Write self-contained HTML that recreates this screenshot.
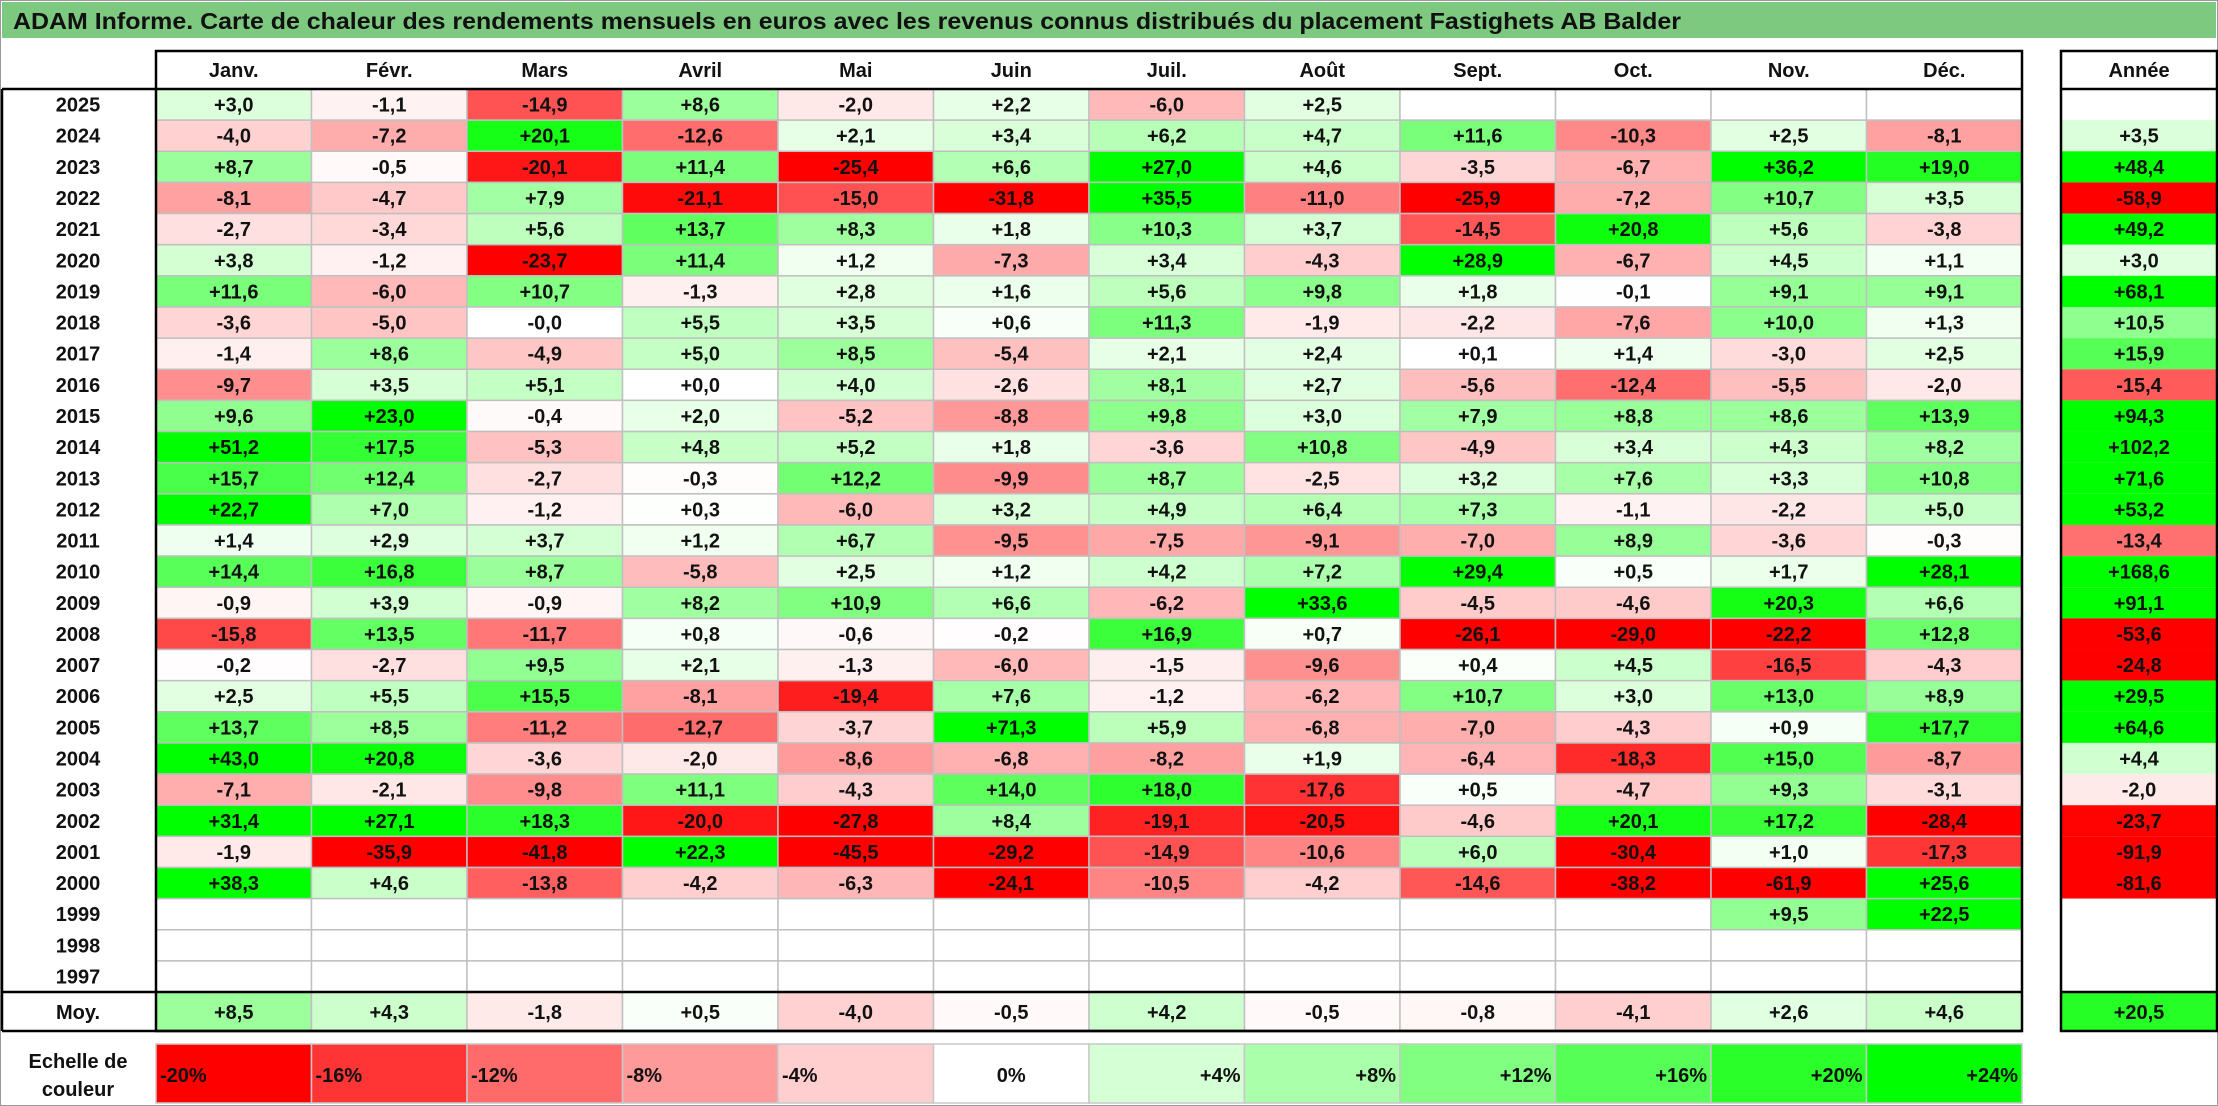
<!DOCTYPE html>
<html><head><meta charset="utf-8"><style>
html,body{margin:0;padding:0;background:#fff;}
svg{display:block;font-family:"Liberation Sans",Arial,sans-serif;font-weight:bold;}
</style></head><body>
<svg id="chart" width="2218" height="1106" viewBox="0 0 2218 1106" xmlns="http://www.w3.org/2000/svg">
<rect x="0" y="0" width="2218" height="1106" fill="#fff" stroke="#999" stroke-width="2"/>
<rect x="2" y="2" width="2214" height="36" fill="#7dc97f"/>
<text x="13" y="29" font-size="23" textLength="1668" lengthAdjust="spacingAndGlyphs" fill="#111">ADAM Informe. Carte de chaleur des rendements mensuels en euros avec les revenus connus distribués du placement Fastighets AB Balder</text>
<g id="cells"></g>
<g id="lines"></g>
</svg>
<script>
const months = ["Janv.","Févr.","Mars","Avril","Mai","Juin","Juil.","Août","Sept.","Oct.","Nov.","Déc."];
const years = [2025,2024,2023,2022,2021,2020,2019,2018,2017,2016,2015,2014,2013,2012,2011,2010,2009,2008,2007,2006,2005,2004,2003,2002,2001,2000,1999,1998,1997];
const N = null;
const monthly = [
[3.0,-1.1,-14.9,8.6,-2.0,2.2,-6.0,2.5,N,N,N,N],
[-4.0,-7.2,20.1,-12.6,2.1,3.4,6.2,4.7,11.6,-10.3,2.5,-8.1],
[8.7,-0.5,-20.1,11.4,-25.4,6.6,27.0,4.6,-3.5,-6.7,36.2,19.0],
[-8.1,-4.7,7.9,-21.1,-15.0,-31.8,35.5,-11.0,-25.9,-7.2,10.7,3.5],
[-2.7,-3.4,5.6,13.7,8.3,1.8,10.3,3.7,-14.5,20.8,5.6,-3.8],
[3.8,-1.2,-23.7,11.4,1.2,-7.3,3.4,-4.3,28.9,-6.7,4.5,1.1],
[11.6,-6.0,10.7,-1.3,2.8,1.6,5.6,9.8,1.8,-0.1,9.1,9.1],
[-3.6,-5.0,-0.0,5.5,3.5,0.6,11.3,-1.9,-2.2,-7.6,10.0,1.3],
[-1.4,8.6,-4.9,5.0,8.5,-5.4,2.1,2.4,0.1,1.4,-3.0,2.5],
[-9.7,3.5,5.1,0.0,4.0,-2.6,8.1,2.7,-5.6,-12.4,-5.5,-2.0],
[9.6,23.0,-0.4,2.0,-5.2,-8.8,9.8,3.0,7.9,8.8,8.6,13.9],
[51.2,17.5,-5.3,4.8,5.2,1.8,-3.6,10.8,-4.9,3.4,4.3,8.2],
[15.7,12.4,-2.7,-0.3,12.2,-9.9,8.7,-2.5,3.2,7.6,3.3,10.8],
[22.7,7.0,-1.2,0.3,-6.0,3.2,4.9,6.4,7.3,-1.1,-2.2,5.0],
[1.4,2.9,3.7,1.2,6.7,-9.5,-7.5,-9.1,-7.0,8.9,-3.6,-0.3],
[14.4,16.8,8.7,-5.8,2.5,1.2,4.2,7.2,29.4,0.5,1.7,28.1],
[-0.9,3.9,-0.9,8.2,10.9,6.6,-6.2,33.6,-4.5,-4.6,20.3,6.6],
[-15.8,13.5,-11.7,0.8,-0.6,-0.2,16.9,0.7,-26.1,-29.0,-22.2,12.8],
[-0.2,-2.7,9.5,2.1,-1.3,-6.0,-1.5,-9.6,0.4,4.5,-16.5,-4.3],
[2.5,5.5,15.5,-8.1,-19.4,7.6,-1.2,-6.2,10.7,3.0,13.0,8.9],
[13.7,8.5,-11.2,-12.7,-3.7,71.3,5.9,-6.8,-7.0,-4.3,0.9,17.7],
[43.0,20.8,-3.6,-2.0,-8.6,-6.8,-8.2,1.9,-6.4,-18.3,15.0,-8.7],
[-7.1,-2.1,-9.8,11.1,-4.3,14.0,18.0,-17.6,0.5,-4.7,9.3,-3.1],
[31.4,27.1,18.3,-20.0,-27.8,8.4,-19.1,-20.5,-4.6,20.1,17.2,-28.4],
[-1.9,-35.9,-41.8,22.3,-45.5,-29.2,-14.9,-10.6,6.0,-30.4,1.0,-17.3],
[38.3,4.6,-13.8,-4.2,-6.3,-24.1,-10.5,-4.2,-14.6,-38.2,-61.9,25.6],
[N,N,N,N,N,N,N,N,N,N,9.5,22.5],
[N,N,N,N,N,N,N,N,N,N,N,N],
[N,N,N,N,N,N,N,N,N,N,N,N]
];
const annual = [N,3.5,48.4,-58.9,49.2,3.0,68.1,10.5,15.9,-15.4,94.3,102.2,71.6,53.2,-13.4,168.6,91.1,-53.6,-24.8,29.5,64.6,4.4,-2.0,-23.7,-91.9,-81.6,N,N,N];
const averages = [8.5,4.3,-1.8,0.5,-4.0,-0.5,4.2,-0.5,-0.8,-4.1,2.6,4.6];
const averageYear = 20.5;
const scaleLabels = ["-20%","-16%","-12%","-8%","-4%","0%","+4%","+8%","+12%","+16%","+20%","+24%"];
const scaleValues = [-24,-19,-14,-9.5,-4.5,0,4,8,12,16,20,24];

const NS="http://www.w3.org/2000/svg";
const cells=document.getElementById('cells'), lines=document.getElementById('lines');
const X0=156, CW=155.5, AX=2061, AW=156, HY=51, RY=89, RH=31.14;
const colX=i=>X0+i*CW;
const rowY=r=>RY+r*RH;
function mk(tag,attrs,parent){const e=document.createElementNS(NS,tag);for(const k in attrs)e.setAttribute(k,attrs[k]);parent.appendChild(e);return e;}
function color(v,s){if(v===null)return '#fff';let t=Math.min(1,Math.abs(v)/s);const c=Math.round(255*(1-t));return v>=0?`rgb(${c},255,${c})`:`rgb(255,${c},${c})`;}
function fmt(v){const neg=v<0||Object.is(v,-0);return (neg?'-':'+')+Math.abs(v).toFixed(1).replace('.',',');}
function txt(x,y,s,parent,anchor){const t=mk('text',{x:x,y:y,'font-size':20,'text-anchor':anchor||'middle',fill:'#111'},parent);t.textContent=s;return t;}

// header
months.forEach((m,i)=>{
  const t=txt(colX(i)+CW/2,HY+26,m,cells);
  
  
});
const ah=txt(AX+AW/2,HY+26,'Année',cells);



// rows
years.forEach((y,r)=>{
  const yl=txt(78,rowY(r)+RH/2+7,String(y),cells);
  
  
  monthly[r].forEach((v,i)=>{
    const rc=mk('rect',{x:colX(i),y:rowY(r),width:CW,height:RH,fill:color(v,22),stroke:'#c0c0c0','stroke-width':1.5},cells);
    
    
    if(v!==null){const t=txt(colX(i)+CW/2,rowY(r)+RH/2+7,fmt(v),cells);
      
      }
  });
  const a=annual[r];
  const ar=mk('rect',{x:AX,y:rowY(r),width:AW,height:RH,fill:color(a,24)},cells);
  
  
  if(a!==null){const t=txt(AX+AW/2,rowY(r)+RH/2+7,fmt(a),cells);
    
    }
});
// average row
const MY=992, MH=39;
const ml=txt(78,MY+27,'Moy.',cells);


averages.forEach((v,i)=>{
  const rc=mk('rect',{x:colX(i),y:MY,width:CW,height:MH,fill:color(v,22),stroke:'#c0c0c0','stroke-width':1.5},cells);
  
  
  const t=txt(colX(i)+CW/2,MY+27,fmt(v),cells);
  
  
});
const avr=mk('rect',{x:AX,y:MY,width:AW,height:MH,fill:color(averageYear,24)},cells);


const avt=txt(AX+AW/2,MY+27,fmt(averageYear),cells);



// legend
const LY=1044, LH=59;
const l1=txt(78,LY+24,'Echelle de',cells);


const l2=txt(78,LY+52,'couleur',cells);


scaleLabels.forEach((s,i)=>{
  const v=scaleValues[i];
  const rc=mk('rect',{x:colX(i),y:LY,width:CW,height:LH,fill:color(v,24),stroke:'#c8c8c8','stroke-width':1.5},cells);
  
  
  let x,anc;
  if(v<0){x=colX(i)+4;anc='start';}else if(v>0){x=colX(i)+CW-4;anc='end';}else{x=colX(i)+CW/2;anc='middle';}
  const t=txt(x,LY+38,s,cells,anc);
  
  
});

// black frame lines
const blk={stroke:'#000','stroke-width':2.5,fill:'none'};
function line(x1,y1,x2,y2,name){const l=mk('line',Object.assign({x1,y1,x2,y2},blk),lines);}
mk('rect',Object.assign({x:X0,y:HY,width:12*CW,height:MY+MH-HY},blk),lines);
line(2,RY,X0+12*CW,RY,'header-rule');
line(2,MY,X0+12*CW,MY,'average-rule');
line(2,MY+MH,X0+12*CW,MY+MH,'bottom-rule');
line(2,RY,2,MY+MH,'left-rule');
mk('rect',Object.assign({x:AX,y:HY,width:AW,height:MY+MH-HY},blk),lines);
line(AX,RY,AX+AW,RY,'annual-header-rule');
line(AX,MY,AX+AW,MY,'annual-average-rule');
</script>
</body></html>
